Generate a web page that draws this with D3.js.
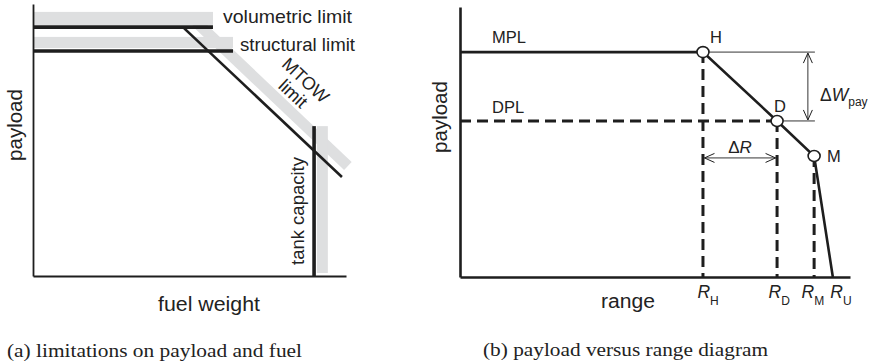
<!DOCTYPE html>
<html><head><meta charset="utf-8">
<script src="https://cdn.jsdelivr.net/npm/d3@7/dist/d3.min.js"></script>
<style>
html,body{margin:0;padding:0;background:#fff;}
svg{display:block;}
.sans{font-family:"Liberation Sans",Arial,sans-serif;fill:#222;}
.serif{font-family:"Liberation Serif","Times New Roman",serif;fill:#222;}
</style></head>
<body>
<svg id="chart" width="870" height="364"></svg>
<script>
// ---------- data: panel (a) limitations on payload and fuel ----------
const limitNames = ["volumetric limit", "structural limit", "MTOW", "limit", "tank capacity"];
const volumetricLine = [[0, 91.5], [57.5, 91.5]];
const structuralLine = [[0, 82.7], [63.9, 82.7]];
const mtowLine = [[47.9, 91.5], [98.7, 36.4]];
const tankLine = [[89.8, 0], [89.8, 55.1]];
// shaded (infeasible side) bands, [x0, x1, y0, y1]
const volumetricBand = [0, 57.5, 92.3, 97.1];
const structuralBand = [0, 63.9, 83.8, 87.9];
const tankBand = [90.7, 94.2, 1.1, 55.1];
const mtowBand = [[52.1, 93.4], [100.6, 40.4]];
const axisTitlesA = ["fuel weight", "payload"];
const captionA = "(a) limitations on payload and fuel";

// ---------- data: panel (b) payload versus range ----------
const pointNames = ["H", "D", "M", "U"];
const rangeValues = [62.3, 81.3, 90.8, 95.6];
const payloadValues = [83.3, 57.8, 44.8, 0];
const payloadLevelNames = ["MPL", "DPL"];
const payloadLevels = [83.3, 57.8];
const deltaWArrowX = 89.2;
const deltaWLineEnd = 91.0;
const deltaRArrowY = 44.1;
const axisTitlesB = ["range", "payload"];
const captionB = "(b) payload versus range diagram";

const svg = d3.select("#chart");
const ink = "#1e1e1e", grey = "#dedfe0";

// scales
const xA = d3.scaleLinear().domain([0, 100]).range([33, 346]);
const yA = d3.scaleLinear().domain([0, 100]).range([276, 4]);
const xB = d3.scaleLinear().domain([0, 100]).range([460, 850]);
const yB = d3.scaleLinear().domain([0, 100]).range([277, 7]);

const line = (xs, ys) => d3.line().x(d => xs(d[0])).y(d => ys(d[1]));

// ===== panel (a) =====
const gA = svg.append("g");
function band(b) {
  gA.append("rect").attr("x", xA(b[0])).attr("width", xA(b[1]) - xA(b[0]))
    .attr("y", yA(b[3])).attr("height", yA(b[2]) - yA(b[3])).attr("fill", grey);
}
gA.append("path").datum(mtowBand).attr("d", line(xA, yA)).attr("stroke", grey)
  .attr("stroke-width", 11).attr("fill", "none");
band(volumetricBand); band(structuralBand); band(tankBand);

// axes (no ticks)
gA.append("g").attr("transform", `translate(0,${yA(0)})`)
  .call(d3.axisBottom(xA).tickValues([]).tickSizeOuter(0))
  .call(g => g.select(".domain").attr("stroke", ink).attr("stroke-width", 1.8));
gA.append("g").attr("transform", `translate(${xA(0)},0)`)
  .call(d3.axisLeft(yA).tickValues([]).tickSizeOuter(0))
  .call(g => g.select(".domain").attr("stroke", ink).attr("stroke-width", 1.8));

[volumetricLine, structuralLine, tankLine].forEach(l =>
  gA.append("path").datum(l).attr("d", line(xA, yA)).attr("stroke", ink)
    .attr("stroke-width", 3.6).attr("fill", "none"));
gA.append("path").datum(mtowLine).attr("d", line(xA, yA)).attr("stroke", ink)
  .attr("stroke-width", 2.6).attr("fill", "none");

gA.append("text").attr("class", "sans").attr("x", 223).attr("y", 23)
  .attr("font-size", 18.5).attr("textLength", 129).attr("lengthAdjust", "spacingAndGlyphs")
  .text(limitNames[0]);
gA.append("text").attr("class", "sans").attr("x", 240).attr("y", 51)
  .attr("font-size", 18.5).attr("textLength", 115).attr("lengthAdjust", "spacingAndGlyphs")
  .text(limitNames[1]);
const mt = gA.append("g").attr("transform", "translate(306,80) rotate(43)");
mt.append("text").attr("class", "sans").attr("text-anchor", "middle").attr("y", 6.5)
  .attr("font-size", 18).text(limitNames[2]);
mt.append("text").attr("class", "sans").attr("text-anchor", "middle").attr("y", 25)
  .attr("font-size", 18).text(limitNames[3]);
gA.append("text").attr("class", "sans").attr("transform", "translate(304,265) rotate(-90)")
  .attr("font-size", 18.5).text(limitNames[4]);

gA.append("text").attr("class", "sans").attr("x", 209).attr("y", 311)
  .attr("text-anchor", "middle").attr("font-size", 19.5)
  .attr("textLength", 102).attr("lengthAdjust", "spacingAndGlyphs").text(axisTitlesA[0]);
gA.append("text").attr("class", "sans").attr("transform", "translate(22,125) rotate(-90)")
  .attr("text-anchor", "middle").attr("font-size", 20.5).text(axisTitlesA[1]);
gA.append("text").attr("class", "serif").attr("x", 7).attr("y", 357)
  .attr("font-size", 18).attr("textLength", 295).attr("lengthAdjust", "spacingAndGlyphs")
  .text(captionA);

// ===== panel (b) =====
const gB = svg.append("g");
const defs = svg.append("defs");
defs.append("marker").attr("id", "arr").attr("viewBox", "-1 -6 12 12")
  .attr("refX", 10).attr("refY", 0).attr("markerWidth", 12).attr("markerHeight", 12)
  .attr("markerUnits", "userSpaceOnUse").attr("orient", "auto-start-reverse")
  .append("path").attr("d", "M0,-4.5L10,0L0,4.5").attr("fill", "none")
  .attr("stroke", ink).attr("stroke-width", 1);

const pts = rangeValues.map((r, i) => [r, payloadValues[i]]);

// dashed guides
const dash = "11,6";
gB.append("path").datum([[0, payloadLevels[1]], pts[1]]).attr("d", line(xB, yB))
  .attr("stroke", ink).attr("stroke-width", 3).attr("stroke-dasharray", dash).attr("fill", "none");
pts.slice(0, 3).forEach(p =>
  gB.append("path").datum([p, [p[0], 0]]).attr("d", line(xB, yB))
    .attr("stroke", ink).attr("stroke-width", 3).attr("stroke-dasharray", dash).attr("fill", "none"));

// axes with tick labels R_H ... R_U
const tickLabelShift = [-6, -9, -13, -3];
const xAxisB = gB.append("g").attr("transform", `translate(0,${yB(0)})`)
  .call(d3.axisBottom(xB).tickValues(rangeValues).tickSize(0).tickSizeOuter(0).tickPadding(0).tickFormat(() => ""));
xAxisB.select(".domain").attr("stroke", ink).attr("stroke-width", 2.6);
xAxisB.selectAll(".tick text").each(function(d, i) {
  const t = d3.select(this).attr("class", "sans").attr("fill", ink)
    .attr("y", 21).attr("dy", 0).attr("x", tickLabelShift[i]).attr("font-size", 17.5)
    .attr("text-anchor", "start");
  t.append("tspan").attr("font-style", "italic").text("R");
  t.append("tspan").attr("font-size", 12).attr("dy", 6.5).text(pointNames[i]);
});
gB.append("g").attr("transform", `translate(${xB(0)},0)`)
  .call(d3.axisLeft(yB).tickValues([]).tickSizeOuter(0))
  .call(g => g.select(".domain").attr("stroke", ink).attr("stroke-width", 2.6));

// payload-range line
gB.append("path").datum([[0, payloadLevels[0]], ...pts]).attr("d", line(xB, yB))
  .attr("stroke", ink).attr("stroke-width", 2.6).attr("fill", "none");

// thin extension lines and arrows
[pts[0], pts[1]].forEach(p =>
  gB.append("line").attr("x1", xB(p[0])).attr("x2", xB(deltaWLineEnd))
    .attr("y1", yB(p[1])).attr("y2", yB(p[1])).attr("stroke", ink).attr("stroke-width", 0.9));
gB.append("line").attr("x1", xB(deltaWArrowX)).attr("x2", xB(deltaWArrowX))
  .attr("y1", yB(payloadLevels[0]) + 1).attr("y2", yB(payloadLevels[1]) - 1)
  .attr("stroke", ink).attr("stroke-width", 0.9)
  .attr("marker-start", "url(#arr)").attr("marker-end", "url(#arr)");
gB.append("line").attr("x1", xB(pts[0][0]) + 1.5).attr("x2", xB(pts[1][0]) - 1.5)
  .attr("y1", yB(deltaRArrowY)).attr("y2", yB(deltaRArrowY))
  .attr("stroke", ink).attr("stroke-width", 0.9)
  .attr("marker-start", "url(#arr)").attr("marker-end", "url(#arr)");

// markers
pts.slice(0, 3).forEach(p =>
  gB.append("ellipse").attr("cx", xB(p[0])).attr("cy", yB(p[1])).attr("rx", 6).attr("ry", 5.5)
    .attr("fill", "#fff").attr("stroke", ink).attr("stroke-width", 1.6));

// labels
gB.append("text").attr("class", "sans").attr("x", 492).attr("y", yB(payloadLevels[0]) - 9)
  .attr("font-size", 16.5).text(payloadLevelNames[0]);
gB.append("text").attr("class", "sans").attr("x", 492).attr("y", yB(payloadLevels[1]) - 8)
  .attr("font-size", 16.5).text(payloadLevelNames[1]);
gB.append("text").attr("class", "sans").attr("x", xB(pts[0][0]) + 7).attr("y", yB(pts[0][1]) - 9)
  .attr("font-size", 16.5).text(pointNames[0]);
gB.append("text").attr("class", "sans").attr("x", xB(pts[1][0]) - 3).attr("y", yB(pts[1][1]) - 9)
  .attr("font-size", 16.5).text(pointNames[1]);
gB.append("text").attr("class", "sans").attr("x", xB(pts[2][0]) + 13).attr("y", yB(pts[2][1]) + 6)
  .attr("font-size", 16.5).text(pointNames[2]);
const dW = gB.append("text").attr("class", "sans").attr("x", 820).attr("y", 101).attr("font-size", 17.5);
dW.append("tspan").text("Δ");
dW.append("tspan").attr("font-style", "italic").text("W");
dW.append("tspan").attr("font-size", 12).attr("dy", 5).text("pay");
const dR = gB.append("text").attr("class", "sans").attr("x", 740).attr("y", 153)
  .attr("text-anchor", "middle").attr("font-size", 17);
dR.append("tspan").text("Δ");
dR.append("tspan").attr("font-style", "italic").text("R");

gB.append("text").attr("class", "sans").attr("x", 628).attr("y", 308)
  .attr("text-anchor", "middle").attr("font-size", 19.5)
  .attr("textLength", 54).attr("lengthAdjust", "spacingAndGlyphs").text(axisTitlesB[0]);
gB.append("text").attr("class", "sans").attr("transform", "translate(447,117) rotate(-90)")
  .attr("text-anchor", "middle").attr("font-size", 20.5).text(axisTitlesB[1]);
gB.append("text").attr("class", "serif").attr("x", 483).attr("y", 356)
  .attr("font-size", 18).attr("textLength", 285).attr("lengthAdjust", "spacingAndGlyphs")
  .text(captionB);
</script>
</body></html>
